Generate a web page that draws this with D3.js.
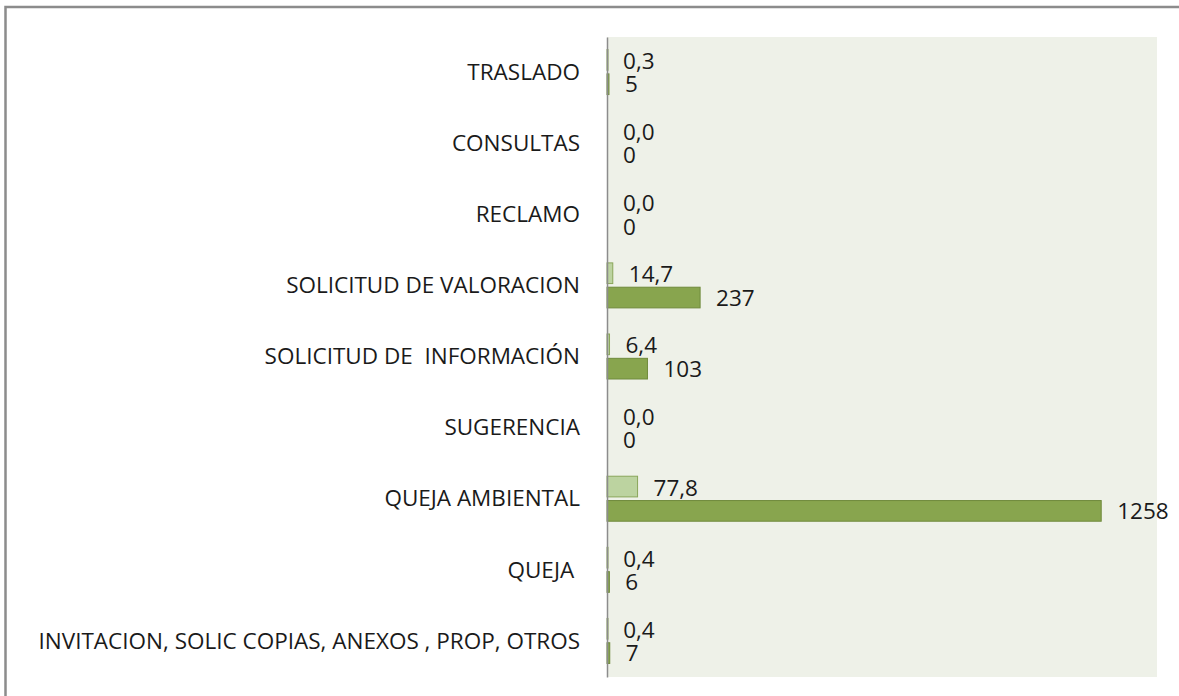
<!DOCTYPE html>
<html>
<head>
<meta charset="utf-8">
<script src="https://cdn.jsdelivr.net/npm/d3@7"></script>
<style>
    body { margin: 0; background: #ffffff; }
    svg text { font-family: "Open Sans", sans-serif; fill: #1a1a1a; }
</style>
</head>
<body>
<svg id="chart" width="1179" height="696"></svg>
<script>
// datos
const categorias = [
    "TRASLADO",
    "CONSULTAS",
    "RECLAMO",
    "SOLICITUD DE VALORACION",
    "SOLICITUD DE  INFORMACIÓN",
    "SUGERENCIA",
    "QUEJA AMBIENTAL",
    "QUEJA ",
    "INVITACION, SOLIC COPIAS, ANEXOS , PROP, OTROS"
];
const porcentajes = [0.3, 0.0, 0.0, 14.7, 6.4, 0.0, 77.8, 0.4, 0.4];
const cantidades = [5, 0, 0, 237, 103, 0, 1258, 6, 7];
const series = ["porcentaje", "cantidad"];

const margin = { top: 37, right: 22, bottom: 19, left: 607 };
const containerWidth = 1179;
const containerHeight = 696;
const width = containerWidth - (margin.left + margin.right);
const height = containerHeight - (margin.top + margin.bottom);
const fontSize = 22.5;

const svg = d3.select("#chart");

// borde exterior del grafico
svg.append("rect")
    .attr("x", 5.5)
    .attr("y", 7)
    .attr("width", 1300)
    .attr("height", 800)
    .attr("fill", "none")
    .attr("stroke", "#8c8c8c")
    .attr("stroke-width", 2.5);

const chartArea = svg.append("g")
    .attr("transform", `translate(${margin.left},${margin.top})`);

chartArea.append("rect")
    .attr("width", width)
    .attr("height", height)
    .attr("fill", "#eef1e8");

const xScale = d3.scaleLinear()
    .domain([0, 1400])
    .range([0, width]);
const yScale = d3.scaleBand()
    .domain(categorias)
    .range([0, height]);
const innerScale = d3.scaleBand()
    .domain(series)
    .range([-23, 22])
    .paddingInner(0.15);

const fmt = v => d3.format(".1f")(v).replace(".", ",");

const rows = categorias.map((c, i) => ({
    categoria: c,
    valores: [
        { serie: "porcentaje", valor: porcentajes[i], texto: fmt(porcentajes[i]) },
        { serie: "cantidad", valor: cantidades[i], texto: String(cantidades[i]) }
    ]
}));

const colors = {
    porcentaje: { fill: "#bcd3a0", stroke: "#8aa65a" },
    cantidad: { fill: "#88a54e", stroke: "#6f8a3c" }
};

const groups = chartArea.selectAll(".cat")
    .data(rows)
    .join("g")
    .attr("class", "cat")
    .attr("transform", d => `translate(0,${yScale(d.categoria) + yScale.bandwidth() / 2})`);

groups.selectAll("rect")
    .data(d => d.valores.filter(v => v.valor > 0))
    .join("rect")
    .attr("x", 0)
    .attr("y", d => innerScale(d.serie))
    .attr("width", d => Math.max(xScale(d.valor), 1))
    .attr("height", innerScale.bandwidth())
    .attr("fill", d => colors[d.serie].fill)
    .attr("stroke", d => colors[d.serie].stroke)
    .attr("stroke-width", 1);

groups.selectAll(".val")
    .data(d => d.valores)
    .join("text")
    .attr("class", "val")
    .attr("x", d => xScale(d.valor) + 16)
    .attr("y", d => innerScale(d.serie) + innerScale.bandwidth() / 2 + (d.serie === "porcentaje" ? 1 : 0))
    .attr("dy", "0.36em")
    .attr("font-size", fontSize)
    .text(d => d.texto);

// eje vertical
const yAxisG = chartArea.append("g")
    .attr("class", "axis y-axis");
yAxisG.call(d3.axisLeft(yScale).tickSize(0).tickPadding(27));
yAxisG.select(".domain")
    .attr("stroke", "#8c8c8c")
    .attr("stroke-width", 1.5);
yAxisG.selectAll("text")
    .attr("font-size", fontSize)
    .attr("font-family", "Open Sans, sans-serif")
    .attr("fill", "#1a1a1a")
    .style("white-space", "pre");
</script>
</body>
</html>
